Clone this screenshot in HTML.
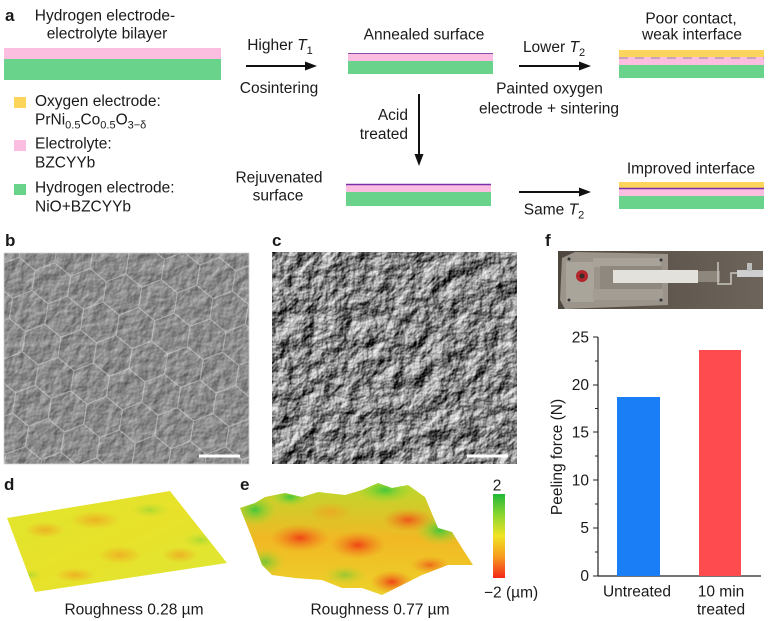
<!DOCTYPE html>
<html><head><meta charset="utf-8"><style>
html,body{margin:0;padding:0;background:#fff;}
svg{display:block;}
text{font-family:"Liberation Sans",Arial,sans-serif;fill:#1a1a1a;}
</style></head><body>
<svg width="768" height="621" viewBox="0 0 768 621" xmlns="http://www.w3.org/2000/svg">
<defs>
  <filter id="semC" x="0" y="0" width="100%" height="100%" color-interpolation-filters="sRGB">
    <feTurbulence type="fractalNoise" baseFrequency="0.055" numOctaves="4" seed="7" result="n"/>
    <feDiffuseLighting in="n" surfaceScale="4" lighting-color="#fff" diffuseConstant="1">
      <feDistantLight azimuth="225" elevation="33"/>
    </feDiffuseLighting>
  </filter>
  <filter id="semB" x="0" y="0" width="100%" height="100%" color-interpolation-filters="sRGB">
    <feTurbulence type="fractalNoise" baseFrequency="0.09" numOctaves="3" seed="3" result="n"/>
    <feDiffuseLighting in="n" surfaceScale="0.8" lighting-color="#fff" diffuseConstant="1">
      <feDistantLight azimuth="225" elevation="33"/>
    </feDiffuseLighting>
  </filter>
  <pattern id="hex" patternUnits="userSpaceOnUse" width="36" height="62" patternTransform="rotate(9) translate(5,3)">
    <path d="M0,10.5 L18,0 L36,10.5 L36,31 L18,41.5 L0,31 Z M18,41.5 L18,62" fill="none" stroke="#e2e2e2" stroke-width="1.1" stroke-opacity="0.5"/>
  </pattern>
  <linearGradient id="cbar" x1="0" y1="0" x2="0" y2="1">
    <stop offset="0" stop-color="#22b83a"/>
    <stop offset="0.25" stop-color="#8cd630"/>
    <stop offset="0.5" stop-color="#f0e324"/>
    <stop offset="0.75" stop-color="#f79a1e"/>
    <stop offset="1" stop-color="#f3281a"/>
  </linearGradient>
  <linearGradient id="dfill" x1="0" y1="0" x2="1" y2="1">
    <stop offset="0" stop-color="#dfe62e"/>
    <stop offset="0.5" stop-color="#e8e12a"/>
    <stop offset="1" stop-color="#dde834"/>
  </linearGradient>
  <linearGradient id="efill" x1="0" y1="0" x2="0" y2="1">
    <stop offset="0" stop-color="#b9da2e"/>
    <stop offset="0.5" stop-color="#f1b824"/>
    <stop offset="1" stop-color="#ecd32a"/>
  </linearGradient>
  <radialGradient id="rsp"><stop offset="0" stop-color="#ef3e14" stop-opacity="0.95"/><stop offset="1" stop-color="#f0801c" stop-opacity="0"/></radialGradient>
  <radialGradient id="gsp"><stop offset="0" stop-color="#3cc63a" stop-opacity="0.95"/><stop offset="1" stop-color="#a6da2c" stop-opacity="0"/></radialGradient>
  <radialGradient id="osp"><stop offset="0" stop-color="#f0a020" stop-opacity="0.7"/><stop offset="1" stop-color="#f0a020" stop-opacity="0"/></radialGradient>
  <clipPath id="eclip"><polygon points="240,508 255,503 265,497 285,493 302,497 318,492 345,495 362,490 378,483 392,488 408,485 425,497 438,528 452,532 462,548 473,565 448,565 422,575 402,585 382,595 362,588 342,588 322,580 295,578 272,575 262,565 252,538"/></clipPath>
  <clipPath id="dclip"><polygon points="7,518 170,491 227,563 35,592"/></clipPath>
  <linearGradient id="photoBg" x1="0" y1="0" x2="1" y2="0">
    <stop offset="0" stop-color="#4e4740"/><stop offset="0.5" stop-color="#5f574e"/><stop offset="1" stop-color="#6d655b"/>
  </linearGradient>
</defs>

<!-- ===== Panel a ===== -->
<text x="5" y="21" font-size="17" font-weight="bold">a</text>
<text x="105" y="20.5" font-size="15.5" text-anchor="middle">Hydrogen electrode-</text>
<text x="107" y="38.5" font-size="15.5" text-anchor="middle">electrolyte bilayer</text>
<rect x="4" y="48" width="217" height="11" fill="#fbbde0"/>
<rect x="4" y="59" width="217" height="21" fill="#69d38b"/>

<rect x="14" y="97" width="12" height="11" fill="#fdd55c"/>
<text x="35" y="106" font-size="15.5">Oxygen electrode:</text>
<text x="35" y="124.5" font-size="15.5">PrNi<tspan font-size="11" dy="4">0.5</tspan><tspan dy="-4">Co</tspan><tspan font-size="11" dy="4">0.5</tspan><tspan dy="-4">O</tspan><tspan font-size="11" dy="4">3−δ</tspan></text>
<rect x="14" y="140" width="12" height="11" fill="#fbbde0"/>
<text x="35" y="148.5" font-size="15.5">Electrolyte:</text>
<text x="35" y="167.5" font-size="15.5">BZCYYb</text>
<rect x="14" y="184" width="12" height="11" fill="#69d38b"/>
<text x="35" y="192.5" font-size="15.5">Hydrogen electrode:</text>
<text x="35" y="211.5" font-size="15.5">NiO+BZCYYb</text>

<!-- arrow 1 -->
<text x="280" y="50" font-size="15.5" text-anchor="middle">Higher <tspan font-style="italic">T</tspan><tspan font-size="11" dy="4">1</tspan></text>
<line x1="246" y1="66" x2="308" y2="66" stroke="#111" stroke-width="2"/>
<polygon points="317,66 305,61.5 305,70.5" fill="#111"/>
<text x="279" y="93" font-size="15.5" text-anchor="middle">Cosintering</text>

<!-- annealed -->
<text x="424" y="39.5" font-size="15.5" text-anchor="middle">Annealed surface</text>
<rect x="348" y="53" width="145" height="8" fill="#fbbde0"/>
<rect x="348" y="61" width="145" height="13" fill="#69d38b"/>
<line x1="348" y1="53.5" x2="493" y2="53.5" stroke="#8a4aa8" stroke-width="1"/>

<!-- vertical arrow -->
<line x1="419" y1="94" x2="419" y2="156" stroke="#111" stroke-width="2"/>
<polygon points="419,166 414.5,154 423.5,154" fill="#111"/>
<text x="408" y="120" font-size="15.5" text-anchor="end">Acid</text>
<text x="408" y="139" font-size="15.5" text-anchor="end">treated</text>

<!-- rejuvenated -->
<text x="279" y="182.5" font-size="15.5" text-anchor="middle">Rejuvenated</text>
<text x="278" y="200.5" font-size="15.5" text-anchor="middle">surface</text>
<rect x="346" y="184" width="145" height="8" fill="#fbbde0"/>
<rect x="346" y="192" width="145" height="14" fill="#69d38b"/>
<line x1="346" y1="184.5" x2="491" y2="184.5" stroke="#7a2fa8" stroke-width="1.6"/>

<!-- arrow 2 -->
<text x="554" y="52" font-size="15.5" text-anchor="middle">Lower <tspan font-style="italic">T</tspan><tspan font-size="11" dy="4">2</tspan></text>
<line x1="519" y1="66" x2="582" y2="66" stroke="#111" stroke-width="2"/>
<polygon points="591,66 579,61.5 579,70.5" fill="#111"/>
<text x="549.5" y="93.5" font-size="15.5" text-anchor="middle">Painted oxygen</text>
<text x="549" y="113.5" font-size="15.5" text-anchor="middle">electrode + sintering</text>

<!-- poor contact -->
<text x="691" y="23.5" font-size="15.5" text-anchor="middle">Poor contact,</text>
<text x="692" y="39.5" font-size="15.5" text-anchor="middle">weak interface</text>
<rect x="619" y="50" width="145" height="7" fill="#fdd55c"/>
<rect x="619" y="57" width="145" height="8" fill="#fbbde0"/>
<rect x="619" y="65" width="145" height="13" fill="#69d38b"/>
<line x1="619" y1="58" x2="764" y2="58" stroke="#8f8a8f" stroke-width="1" stroke-dasharray="9,7"/>

<!-- arrow 3 -->
<line x1="519" y1="192" x2="582" y2="192" stroke="#111" stroke-width="2"/>
<polygon points="591,192 579,187.5 579,196.5" fill="#111"/>
<text x="554" y="214.5" font-size="15.5" text-anchor="middle">Same <tspan font-style="italic">T</tspan><tspan font-size="11" dy="4">2</tspan></text>

<!-- improved -->
<text x="691" y="173.5" font-size="15.5" text-anchor="middle">Improved interface</text>
<rect x="619" y="182" width="145" height="6" fill="#fdd55c"/>
<rect x="619" y="188" width="145" height="8" fill="#fbbde0"/>
<rect x="619" y="196" width="145" height="13" fill="#69d38b"/>
<line x1="619" y1="188.5" x2="764" y2="188.5" stroke="#7a2fa8" stroke-width="1.4"/>

<!-- ===== Panel b ===== -->
<text x="5" y="246" font-size="17" font-weight="bold">b</text>
<rect x="4" y="253" width="245" height="211" fill="#8a8a8a"/>
<rect x="4" y="253" width="245" height="211" filter="url(#semB)"/>
<rect x="4" y="253" width="245" height="211" fill="url(#hex)"/>
<rect x="4" y="253" width="245" height="211" fill="none" stroke="#d0d0d0" stroke-width="0.8"/>
<line x1="199" y1="456" x2="240" y2="456" stroke="#fff" stroke-width="3"/>

<!-- ===== Panel c ===== -->
<text x="272" y="246" font-size="17" font-weight="bold">c</text>
<rect x="272" y="252" width="245" height="212" fill="#888"/>
<rect x="272" y="252" width="245" height="212" filter="url(#semC)"/>
<line x1="467" y1="456" x2="508" y2="456" stroke="#fff" stroke-width="3"/>

<!-- ===== Panel f photo ===== -->
<text x="545" y="246" font-size="17" font-weight="bold">f</text>
<rect x="558" y="251" width="205" height="58" fill="url(#photoBg)"/>
<polygon points="562,258 575,252 668,254 668,305 565,309 560,300" fill="#9a948a"/>
<rect x="566" y="262" width="28" height="40" fill="#aaa59b"/>
<rect x="593" y="258" width="68" height="9" fill="#a8a298"/>
<rect x="593" y="289" width="70" height="11" fill="#a39d93"/>
<rect x="600" y="266" width="62" height="23" fill="#8e887e"/>
<circle cx="582" cy="276" r="6" fill="#b3262b"/>
<circle cx="582" cy="276" r="2.5" fill="#3a2a2a"/>
<circle cx="569" cy="259" r="1.5" fill="#333"/>
<circle cx="661" cy="260" r="1.5" fill="#333"/>
<circle cx="661" cy="300" r="1.5" fill="#333"/>
<circle cx="569" cy="300" r="1.5" fill="#333"/>
<rect x="613" y="270" width="85" height="13" fill="#e3e1dc"/>
<rect x="698" y="271" width="22" height="11" fill="#8d877d"/>
<path d="M718,262 L718,284 L731,284 L731,273 L740,273" fill="none" stroke="#c9c6c0" stroke-width="1.5"/>
<rect x="737" y="270" width="26" height="7" fill="#cfcfcf"/>
<rect x="747" y="263" width="5" height="8" fill="#bdbdbd"/>

<!-- ===== Panel f chart ===== -->
<line x1="598" y1="337" x2="598" y2="576" stroke="#222" stroke-width="1.2"/>
<line x1="598" y1="576" x2="761" y2="576" stroke="#222" stroke-width="1.2"/>
<g stroke="#222" stroke-width="1">
  <line x1="593" y1="337" x2="598" y2="337"/>
  <line x1="593" y1="385" x2="598" y2="385"/>
  <line x1="593" y1="432" x2="598" y2="432"/>
  <line x1="593" y1="480" x2="598" y2="480"/>
  <line x1="593" y1="528" x2="598" y2="528"/>
  <line x1="593" y1="576" x2="598" y2="576"/>
  <line x1="595" y1="361" x2="598" y2="361"/>
  <line x1="595" y1="408.5" x2="598" y2="408.5"/>
  <line x1="595" y1="456" x2="598" y2="456"/>
  <line x1="595" y1="504" x2="598" y2="504"/>
  <line x1="595" y1="552" x2="598" y2="552"/>
</g>
<g font-size="15.5" text-anchor="end">
  <text x="589" y="342.5">25</text>
  <text x="589" y="390">20</text>
  <text x="589" y="437.5">15</text>
  <text x="589" y="485.5">10</text>
  <text x="589" y="533">5</text>
  <text x="589" y="581">0</text>
</g>
<text transform="translate(562,457) rotate(-90)" font-size="15.5" text-anchor="middle">Peeling force (N)</text>
<rect x="617" y="397" width="43" height="179" fill="#1a7ff6"/>
<rect x="699" y="350" width="42" height="226" fill="#fd4b50"/>
<text x="637" y="596.5" font-size="15.5" text-anchor="middle">Untreated</text>
<text x="721" y="596.5" font-size="15.5" text-anchor="middle">10 min</text>
<text x="721" y="614.5" font-size="15.5" text-anchor="middle">treated</text>

<!-- ===== Panel d ===== -->
<text x="4" y="490" font-size="17" font-weight="bold">d</text>
<polygon points="7,518 170,491 227,563 35,592" fill="url(#dfill)"/>
<g clip-path="url(#dclip)">
  <ellipse cx="45" cy="530" rx="20" ry="8" fill="url(#osp)"/>
  <ellipse cx="95" cy="520" rx="25" ry="9" fill="url(#osp)"/>
  <ellipse cx="120" cy="555" rx="22" ry="9" fill="url(#osp)"/>
  <ellipse cx="180" cy="555" rx="18" ry="8" fill="url(#osp)"/>
  <ellipse cx="75" cy="575" rx="20" ry="7" fill="url(#osp)"/>
  <ellipse cx="150" cy="510" rx="20" ry="8" fill="url(#gsp)" opacity="0.35"/>
  <ellipse cx="200" cy="540" rx="18" ry="8" fill="url(#gsp)" opacity="0.35"/>
  <ellipse cx="30" cy="575" rx="14" ry="6" fill="url(#gsp)" opacity="0.3"/>
</g>
<text x="134" y="614.5" font-size="15.5" text-anchor="middle">Roughness 0.28 µm</text>

<!-- ===== Panel e ===== -->
<text x="240" y="490" font-size="17" font-weight="bold">e</text>
<g clip-path="url(#eclip)">
  <rect x="238" y="480" width="240" height="118" fill="url(#efill)"/>
  <ellipse cx="255" cy="510" rx="22" ry="16" fill="url(#gsp)"/>
  <ellipse cx="290" cy="497" rx="20" ry="10" fill="url(#gsp)"/>
  <ellipse cx="385" cy="490" rx="30" ry="14" fill="url(#gsp)"/>
  <ellipse cx="440" cy="530" rx="25" ry="16" fill="url(#gsp)"/>
  <ellipse cx="265" cy="562" rx="20" ry="14" fill="url(#gsp)" opacity="0.7"/>
  <ellipse cx="345" cy="575" rx="22" ry="10" fill="url(#gsp)" opacity="0.5"/>
  <ellipse cx="300" cy="538" rx="30" ry="14" fill="url(#rsp)"/>
  <ellipse cx="358" cy="545" rx="28" ry="14" fill="url(#rsp)"/>
  <ellipse cx="408" cy="520" rx="26" ry="12" fill="url(#rsp)" opacity="0.85"/>
  <ellipse cx="392" cy="582" rx="22" ry="12" fill="url(#rsp)"/>
  <ellipse cx="430" cy="565" rx="20" ry="9" fill="url(#rsp)" opacity="0.7"/>
  <ellipse cx="330" cy="512" rx="22" ry="10" fill="url(#osp)"/>
</g>
<rect x="493" y="494" width="12" height="84" fill="url(#cbar)"/>
<text x="497" y="490.5" font-size="15.5" text-anchor="middle">2</text>
<text x="484" y="597.5" font-size="15.5">−2 (µm)</text>
<text x="380" y="614.5" font-size="15.5" text-anchor="middle">Roughness 0.77 µm</text>
</svg>
</body></html>
